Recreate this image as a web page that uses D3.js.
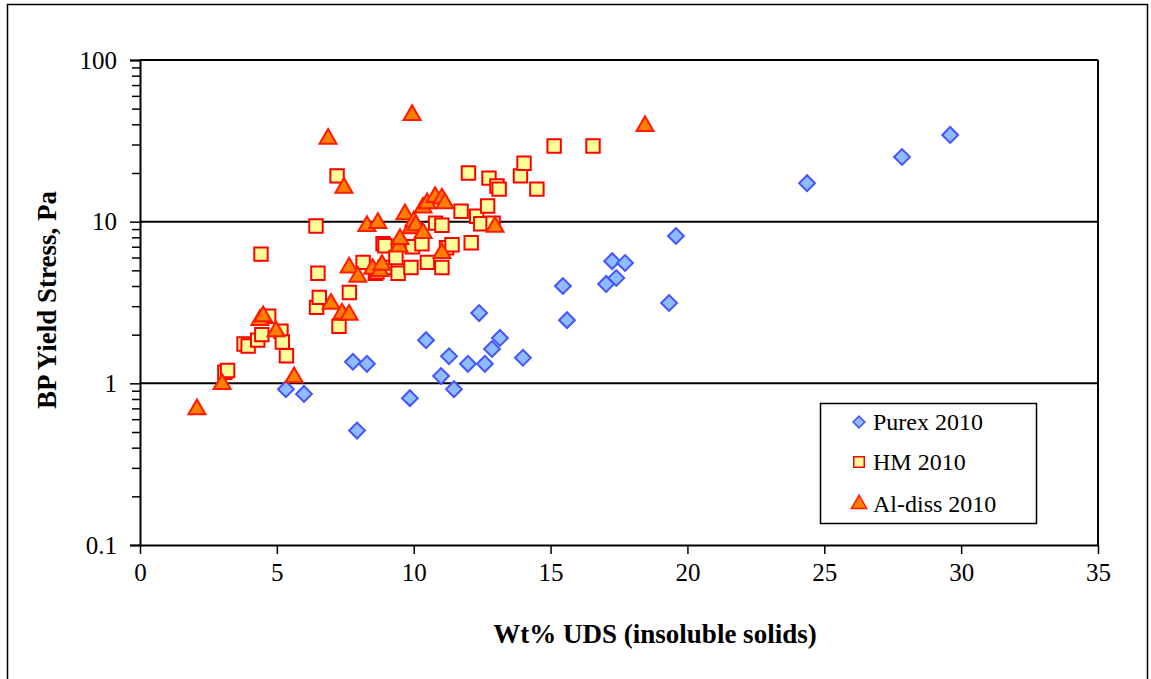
<!DOCTYPE html>
<html>
<head>
<meta charset="utf-8">
<script src="https://cdn.jsdelivr.net/npm/d3@7"></script>
<style>
  body { margin: 0; background: #fff; }
  text { font-family: "Liberation Serif", "Times New Roman", serif; fill: #000; }
</style>
</head>
<body>
<div id="chart"></div>
<script>
// series names
const seriesNames = ["Purex 2010", "HM 2010", "Al-diss 2010"];

// Purex 2010 : [wt% UDS, yield stress Pa]
const purex = [
  [5.33, 0.92], [5.99, 0.86], [7.78, 1.36], [8.29, 1.32], [7.93, 0.51],
  [9.86, 0.81], [10.45, 1.85], [11.0, 1.11], [11.29, 1.47], [11.47, 0.92],
  [11.98, 1.32], [12.39, 2.72], [12.6, 1.32], [12.86, 1.63], [13.15, 1.91],
  [13.99, 1.44], [15.45, 4.0], [15.6, 2.46], [17.03, 4.12], [17.25, 5.7],
  [17.4, 4.48], [17.72, 5.55], [19.33, 3.14], [19.58, 8.15], [24.37, 17.3],
  [27.84, 25.1], [29.6, 34.4]
];

// HM 2010
const hm = [
  [3.1, 1.17], [3.2, 1.2], [3.8, 1.75], [3.95, 1.7], [4.3, 1.85], [4.45, 2.0],
  [4.7, 2.6], [5.15, 2.1], [5.2, 1.8], [5.35, 1.48], [4.42, 6.3], [6.43, 9.4],
  [6.45, 2.95], [6.55, 3.4], [6.5, 4.8], [7.2, 19.2], [7.27, 2.25], [7.65, 3.65],
  [8.15, 5.6], [8.6, 4.8], [8.66, 4.9], [8.88, 7.3], [8.95, 7.1], [8.95, 5.2],
  [9.35, 6.0], [9.43, 4.8], [9.9, 5.2], [9.95, 7.0], [10.3, 7.3], [10.5, 5.6],
  [10.8, 9.8], [11.03, 9.5], [11.03, 5.2], [11.2, 6.9], [11.4, 7.2], [11.73, 11.6],
  [12.0, 20.0], [12.1, 7.4], [12.3, 10.8], [12.45, 9.7], [12.7, 12.5], [12.75, 18.6],
  [12.9, 9.8], [13.04, 16.6], [13.12, 15.9], [13.9, 19.2], [14.03, 23.0], [14.5, 15.9],
  [15.13, 29.4], [16.55, 29.4]
];

// Al-diss 2010
const aldiss = [
  [2.08, 0.69], [3.0, 0.99], [4.38, 2.46], [4.5, 2.6], [4.97, 2.1], [5.63, 1.09],
  [6.87, 32.5], [6.98, 3.1], [7.38, 2.7], [7.64, 2.65], [7.45, 16.2], [7.64, 5.2],
  [7.96, 4.55], [8.29, 9.4], [8.5, 5.1], [8.69, 9.8], [8.77, 4.95], [8.84, 5.4],
  [9.46, 7.0], [9.5, 7.8], [9.68, 11.1], [9.9, 9.1], [9.94, 45.7], [10.0, 10.0],
  [10.08, 9.5], [10.34, 8.5], [10.34, 12.2], [10.49, 13.0], [10.78, 14.2],
  [11.03, 13.9], [11.14, 13.0], [11.03, 6.4], [12.97, 9.3], [18.45, 39]
];

// ticks
const xTicks = [0, 5, 10, 15, 20, 25, 30, 35];
const yTicks = [0.1, 1, 10, 100];
const yTickLabels = ["0.1", "1", "10", "100"];

const W = 1151, H = 679;
const margin = { top: 60, right: 53, bottom: 134, left: 140 };
const width = W - margin.left - margin.right,
      height = H - margin.top - margin.bottom;

const svg = d3.select("#chart").append("svg")
  .attr("width", W).attr("height", H);

// outer frame
svg.append("rect")
  .attr("x", 7.5).attr("y", 4.5).attr("width", 1140).attr("height", 700)
  .attr("fill", "none").attr("stroke", "#000").attr("stroke-width", 1.5);

const g = svg.append("g").attr("transform", "translate(" + margin.left + "," + margin.top + ")");

const x = d3.scaleLinear().domain([0, 35]).range([0, width]);
const y = d3.scaleLog().domain([0.1, 100]).range([height, 0]);

// minor ticks for log axis
const minor = [];
[0.1, 1, 10].forEach(d => { for (let k = 2; k <= 9; k++) minor.push(d * k); });

g.append("g")
  .call(d3.axisLeft(y).tickValues(minor).tickSize(8).tickFormat(""))
  .call(a => a.select(".domain").remove())
  .call(a => a.selectAll("line").attr("stroke", "#000").attr("stroke-width", 1.5));

// gridlines at decades
g.append("g").selectAll("line").data([1, 10, 100]).join("line")
  .attr("x1", 0).attr("x2", width)
  .attr("y1", d => y(d)).attr("y2", d => y(d))
  .attr("stroke", "#000").attr("stroke-width", 2);

// right border
g.append("line").attr("x1", width).attr("x2", width).attr("y1", 0).attr("y2", height)
  .attr("stroke", "#000").attr("stroke-width", 2);

const yAxis = g.append("g")
  .call(d3.axisLeft(y).tickValues(yTicks).tickSize(10).tickPadding(13)
    .tickFormat((d, i) => yTickLabels[i]));
yAxis.select(".domain").attr("stroke-width", 2);
yAxis.selectAll("line").attr("stroke-width", 1.5);
yAxis.selectAll("text").attr("font-size", 25);

const xAxis = g.append("g").attr("transform", "translate(0," + height + ")")
  .call(d3.axisBottom(x).tickValues(xTicks).tickSize(9).tickPadding(9).tickSizeOuter(0));
xAxis.select(".domain").attr("stroke-width", 2);
xAxis.selectAll("line").attr("stroke-width", 1.5);
xAxis.selectAll("text").attr("font-size", 25);

// axis titles
svg.append("text")
  .attr("transform", "translate(56,300) rotate(-90)")
  .attr("text-anchor", "middle")
  .attr("font-size", 27).attr("font-weight", "bold")
  .text("BP Yield Stress, Pa");

svg.append("text")
  .attr("x", 655).attr("y", 643)
  .attr("text-anchor", "middle")
  .attr("font-size", 27).attr("font-weight", "bold")
  .text("Wt% UDS (insoluble solids)");

// markers
const diamond = d3.symbol().type(d3.symbolSquare).size(125);
const square = d3.symbol().type(d3.symbolSquare).size(180);
const triangle = d3.symbol().type(d3.symbolTriangle).size(125);

const styles = [
  { data: purex, sym: diamond, rot: 45, fill: "#8FBCFF", stroke: "#4455FF" },
  { data: hm, sym: square, rot: 0, fill: "#FFFF99", stroke: "#FF0000" },
  { data: aldiss, sym: triangle, rot: 0, fill: "#FF8000", stroke: "#FF1A00" }
];

styles.forEach(s => {
  g.append("g").selectAll("path").data(s.data).join("path")
    .attr("d", s.sym)
    .attr("transform", d => "translate(" + x(d[0]) + "," + y(d[1]) + ") rotate(" + s.rot + ")")
    .attr("fill", s.fill).attr("stroke", s.stroke).attr("stroke-width", 2);
});

// legend
const leg = svg.append("g").attr("transform", "translate(820,403)");
leg.append("rect").attr("x", 0.5).attr("y", 0.5).attr("width", 216).attr("height", 120)
  .attr("fill", "#fff").attr("stroke", "#000").attr("stroke-width", 1.5);

const legSyms = [
  d3.symbol().type(d3.symbolSquare).size(70),
  d3.symbol().type(d3.symbolSquare).size(110),
  d3.symbol().type(d3.symbolTriangle).size(100)
];
const rowsY = [19, 59, 101];
seriesNames.forEach((name, i) => {
  const s = styles[i];
  leg.append("path")
    .attr("d", legSyms[i])
    .attr("transform", "translate(39," + rowsY[i] + ") rotate(" + s.rot + ")")
    .attr("fill", s.fill).attr("stroke", s.stroke).attr("stroke-width", 1.5);
  leg.append("text")
    .attr("x", 53).attr("y", rowsY[i] + 8)
    .attr("font-size", 24)
    .text(name);
});
</script>
</body>
</html>
